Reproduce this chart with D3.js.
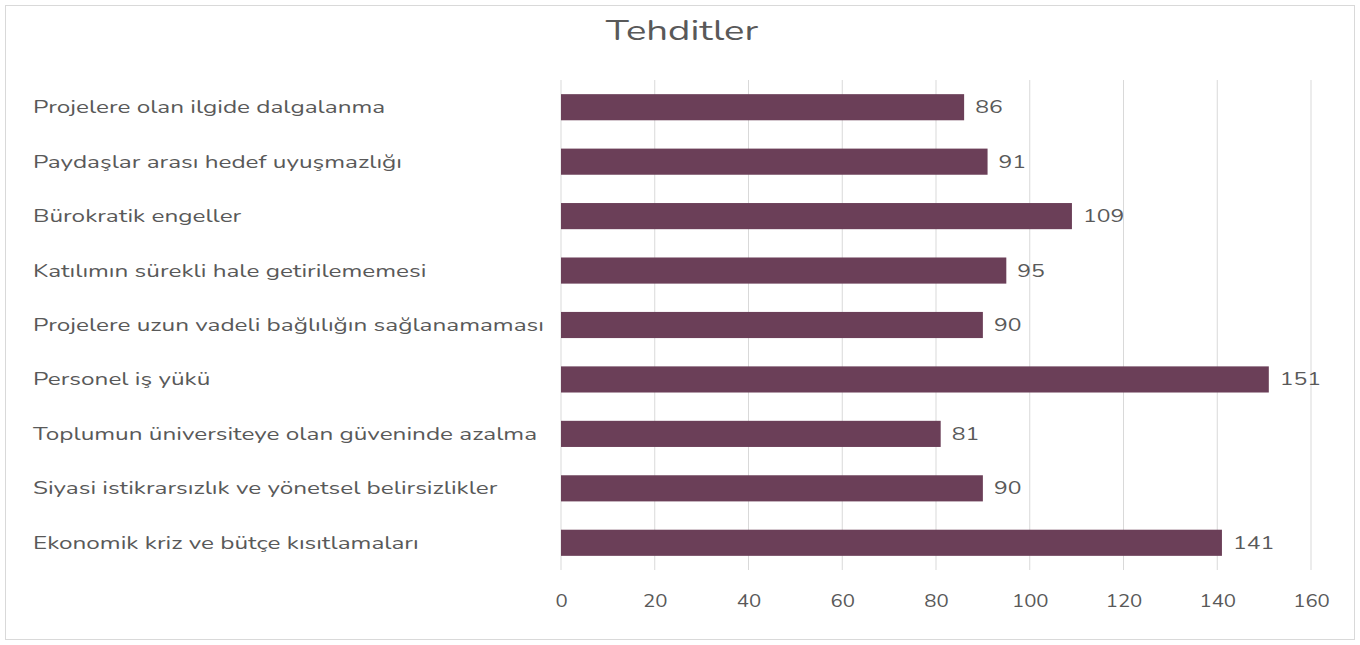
<!DOCTYPE html>
<html>
<head>
<meta charset="utf-8">
<script src="https://cdn.jsdelivr.net/npm/d3@7"></script>
<style>
  body { margin: 0; background: #fff; }
  svg text { font-family: "Nunito", "Lato", "Noto Sans", sans-serif; }
</style>
</head>
<body>
<div id="chart"></div>
<script>
// Data, top to bottom as shown
const categories = [
    "Projelere olan ilgide dalgalanma",
    "Paydaşlar arası hedef uyuşmazlığı",
    "Bürokratik engeller",
    "Katılımın sürekli hale getirilememesi",
    "Projelere uzun vadeli bağlılığın sağlanamaması",
    "Personel iş yükü",
    "Toplumun üniversiteye olan güveninde azalma",
    "Siyasi istikrarsızlık ve yönetsel belirsizlikler",
    "Ekonomik kriz ve bütçe kısıtlamaları"
];
const values = [86, 91, 109, 95, 90, 151, 81, 90, 141];
const xTicks = [0, 20, 40, 60, 80, 100, 120, 140, 160];

const W = 1360, H = 645;
const margin = { top: 80, right: 49, bottom: 75, left: 561 };
const width = W - margin.left - margin.right;
const height = H - margin.top - margin.bottom;

// the reference text is drawn wider than Lato, so stretch it
function widen(sel, k) {
    sel.each(function () {
        const len = this.getComputedTextLength();
        d3.select(this)
            .attr("textLength", len * k)
            .attr("lengthAdjust", "spacingAndGlyphs");
    });
}

const svg = d3.select("#chart")
    .append("svg")
    .attr("width", W)
    .attr("height", H);

// outer frame
svg.append("rect")
    .attr("x", 5.5).attr("y", 5.5)
    .attr("width", W - 11).attr("height", H - 11)
    .attr("fill", "#fff")
    .attr("stroke", "#d9d9d9");

svg.append("text")
    .attr("x", 682).attr("y", 40)
    .attr("text-anchor", "middle")
    .attr("font-size", 29)
    .attr("fill", "#595959")
    .text("Tehditler")
    .call(widen, 1.32);

const g = svg.append("g")
    .attr("transform", `translate(${margin.left},${margin.top})`);

const x = d3.scaleLinear().domain([0, 160]).range([0, width]);
const y = d3.scaleBand().domain(categories).range([0, height]).paddingInner(0.52).paddingOuter(0.26);

// gridlines
g.append("g")
    .selectAll("line")
    .data(xTicks)
    .enter().append("line")
    .attr("x1", d => x(d)).attr("x2", d => x(d))
    .attr("y1", 0).attr("y2", height)
    .attr("stroke", "#d9d9d9")
    .attr("stroke-width", 1);

// x axis labels
const xAxis = g.append("g")
    .attr("transform", `translate(0,${height})`)
    .call(d3.axisBottom(x).tickValues(xTicks).tickSize(0).tickPadding(25));
xAxis.select(".domain").remove();
xAxis.selectAll("text")
    .attr("font-size", 17)
    .attr("fill", "#595959")
    .call(widen, 1.2);

// category labels
g.append("g")
    .selectAll("text")
    .data(categories)
    .enter().append("text")
    .attr("x", 33 - margin.left)
    .attr("y", d => y(d) + y.bandwidth() / 2)
    .attr("dy", "0.35em")
    .attr("font-size", 17)
    .attr("fill", "#595959")
    .text(d => d)
    .call(widen, 1.43);

// bars
g.append("g")
    .selectAll("rect")
    .data(values)
    .enter().append("rect")
    .attr("x", x(0))
    .attr("y", (d, i) => y(categories[i]))
    .attr("width", d => x(d) - x(0))
    .attr("height", y.bandwidth())
    .attr("fill", "#6b3f58");

// value labels
g.append("g")
    .selectAll("text")
    .data(values)
    .enter().append("text")
    .attr("x", d => x(d) + 11)
    .attr("y", (d, i) => y(categories[i]) + y.bandwidth() / 2)
    .attr("dy", "0.35em")
    .attr("font-size", 17)
    .attr("fill", "#595959")
    .text(d => d)
    .call(widen, 1.35);
</script>
</body>
</html>
